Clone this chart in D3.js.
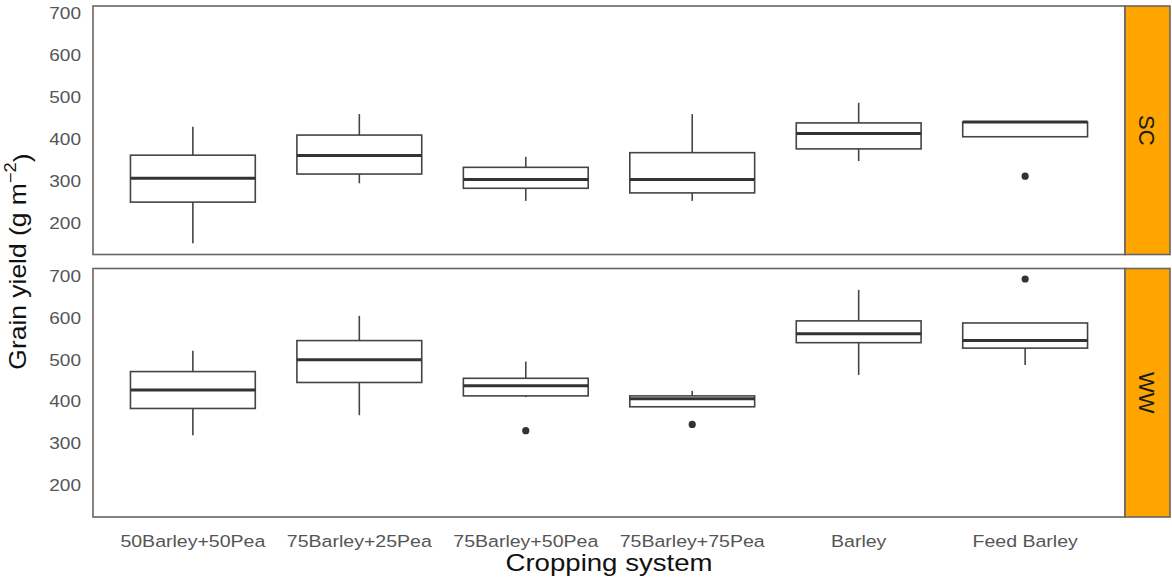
<!DOCTYPE html>
<html>
<head>
<meta charset="utf-8">
<script src="https://cdn.jsdelivr.net/npm/d3@7"></script>
<style>
  body { margin: 0; background: #fff; }
  svg text { font-family: "Liberation Sans", Arial, sans-serif; }
</style>
</head>
<body>
<svg id="chart"></svg>
<script>
// cropping systems on the x axis
const categories = ["50Barley+50Pea", "75Barley+25Pea", "75Barley+50Pea", "75Barley+75Pea", "Barley", "Feed Barley"];
const sites = ["SC", "WW"];

// [lower whisker, Q1, median, Q3, upper whisker] per cropping system
const scStats = [
  [151, 249, 306, 361, 429],
  [294, 316, 360, 409, 459],
  [252, 282, 303, 332, 357],
  [252, 271, 303, 367, 459],
  [347, 376, 413, 438, 486],
  [405, 405, 440, 440, 442]
];
const wwStats = [
  [319, 383, 427, 471, 521],
  [367, 445, 499, 545, 604],
  [410, 413, 437, 455, 495],
  [387, 387, 406, 413, 425],
  [463, 540, 561, 592, 666],
  [487, 527, 545, 587, 587]
];

// outliers: [cropping system, value]
const scOutliers = [["Feed Barley", 311]];
const wwOutliers = [["75Barley+50Pea", 330], ["75Barley+75Pea", 345], ["Feed Barley", 692]];

const yTicks = [200, 300, 400, 500, 600, 700];
const yDomain = [124, 717];

const W = 1172, H = 582;
const margin = { left: 93, right: 47, top: 6, bottom: 65 };
const panelGap = 14;
const stripW = 45;

const svg = d3.select("#chart").attr("width", W).attr("height", H);

const innerW = W - margin.left - margin.right;
const panelH = (H - margin.top - margin.bottom - panelGap) / 2;

const x = d3.scaleBand()
  .domain(categories)
  .range([margin.left, margin.left + innerW])
  .paddingInner(0)
  .paddingOuter(0.1);
const boxW = x.bandwidth() * 0.75;

const panelData = [
  { site: sites[0], stats: scStats, outliers: scOutliers },
  { site: sites[1], stats: wwStats, outliers: wwOutliers }
];

panelData.forEach((p, i) => {
  const top = margin.top + i * (panelH + panelGap);
  const y = d3.scaleLinear().domain(yDomain).range([top + panelH, top]);
  const g = svg.append("g");

  // panel background + border
  g.append("rect")
    .attr("x", margin.left).attr("y", top)
    .attr("width", innerW).attr("height", panelH)
    .attr("fill", "#fff")
    .attr("stroke", "#666").attr("stroke-width", 1.6);

  // y tick labels
  g.selectAll(".ytick")
    .data(yTicks)
    .enter()
    .append("text")
    .attr("transform", d => `translate(${margin.left - 12},${y(d)}) scale(1.12,1)`)
    .attr("text-anchor", "end")
    .attr("dy", "0.36em")
    .style("font-size", "17px")
    .attr("fill", "#555")
    .text(d => d);

  const boxes = g.selectAll(".box")
    .data(p.stats.map((s, j) => ({ cat: categories[j], s: s })))
    .enter()
    .append("g");

  // whiskers
  boxes.append("line")
    .attr("x1", d => x(d.cat) + x.bandwidth() / 2)
    .attr("x2", d => x(d.cat) + x.bandwidth() / 2)
    .attr("y1", d => y(d.s[4])).attr("y2", d => y(d.s[3]))
    .attr("stroke", "#444").attr("stroke-width", 1.6);
  boxes.append("line")
    .attr("x1", d => x(d.cat) + x.bandwidth() / 2)
    .attr("x2", d => x(d.cat) + x.bandwidth() / 2)
    .attr("y1", d => y(d.s[1])).attr("y2", d => y(d.s[0]))
    .attr("stroke", "#444").attr("stroke-width", 1.6);

  // box
  boxes.append("rect")
    .attr("x", d => x(d.cat) + (x.bandwidth() - boxW) / 2)
    .attr("y", d => y(d.s[3]))
    .attr("width", boxW)
    .attr("height", d => y(d.s[1]) - y(d.s[3]))
    .attr("fill", "#fff")
    .attr("stroke", "#444").attr("stroke-width", 1.6);

  // median
  boxes.append("line")
    .attr("x1", d => x(d.cat) + (x.bandwidth() - boxW) / 2)
    .attr("x2", d => x(d.cat) + (x.bandwidth() + boxW) / 2)
    .attr("y1", d => y(d.s[2])).attr("y2", d => y(d.s[2]))
    .attr("stroke", "#333").attr("stroke-width", 3);

  // outliers
  g.selectAll(".out")
    .data(p.outliers)
    .enter()
    .append("circle")
    .attr("cx", d => x(d[0]) + x.bandwidth() / 2)
    .attr("cy", d => y(d[1]))
    .attr("r", 3.6)
    .attr("fill", "#333");

  // facet strip
  const sx = margin.left + innerW;
  g.append("rect")
    .attr("x", sx).attr("y", top)
    .attr("width", stripW).attr("height", panelH)
    .attr("fill", "#FFA500")
    .attr("stroke", "#666").attr("stroke-width", 1.6);
  g.append("text")
    .attr("transform", `translate(${sx + stripW / 2},${top + panelH / 2}) rotate(90) scale(1.1,1.15)`)
    .attr("text-anchor", "middle")
    .attr("dy", "0.36em")
    .style("font-size", "20px")
    .attr("fill", "#1a1a1a")
    .text(p.site);
});

// x tick labels
const bottomY = margin.top + 2 * panelH + panelGap;
svg.selectAll(".xtick")
  .data(categories)
  .enter()
  .append("text")
  .attr("transform", d => `translate(${x(d) + x.bandwidth() / 2},${bottomY + 30}) scale(1.15,1)`)
  .attr("text-anchor", "middle")
  .style("font-size", "17px")
  .attr("fill", "#555")
  .text(d => d);

// axis titles
svg.append("text")
  .attr("transform", `translate(${margin.left + innerW / 2},${H - 11}) scale(1.2,1)`)
  .attr("text-anchor", "middle")
  .style("font-size", "23px")
  .attr("fill", "#111")
  .text("Cropping system");

const yt = svg.append("text")
  .attr("transform", `translate(26,${margin.top + panelH + panelGap / 2}) rotate(-90) scale(1.15,1)`)
  .attr("text-anchor", "middle")
  .style("font-size", "23px")
  .attr("fill", "#111");
yt.append("tspan").text("Grain yield (g m");
yt.append("tspan").attr("dy", "-0.6em").style("font-size", "16px").text("\u22122");
yt.append("tspan").attr("dy", "0.6em").text(")");
</script>
</body>
</html>
